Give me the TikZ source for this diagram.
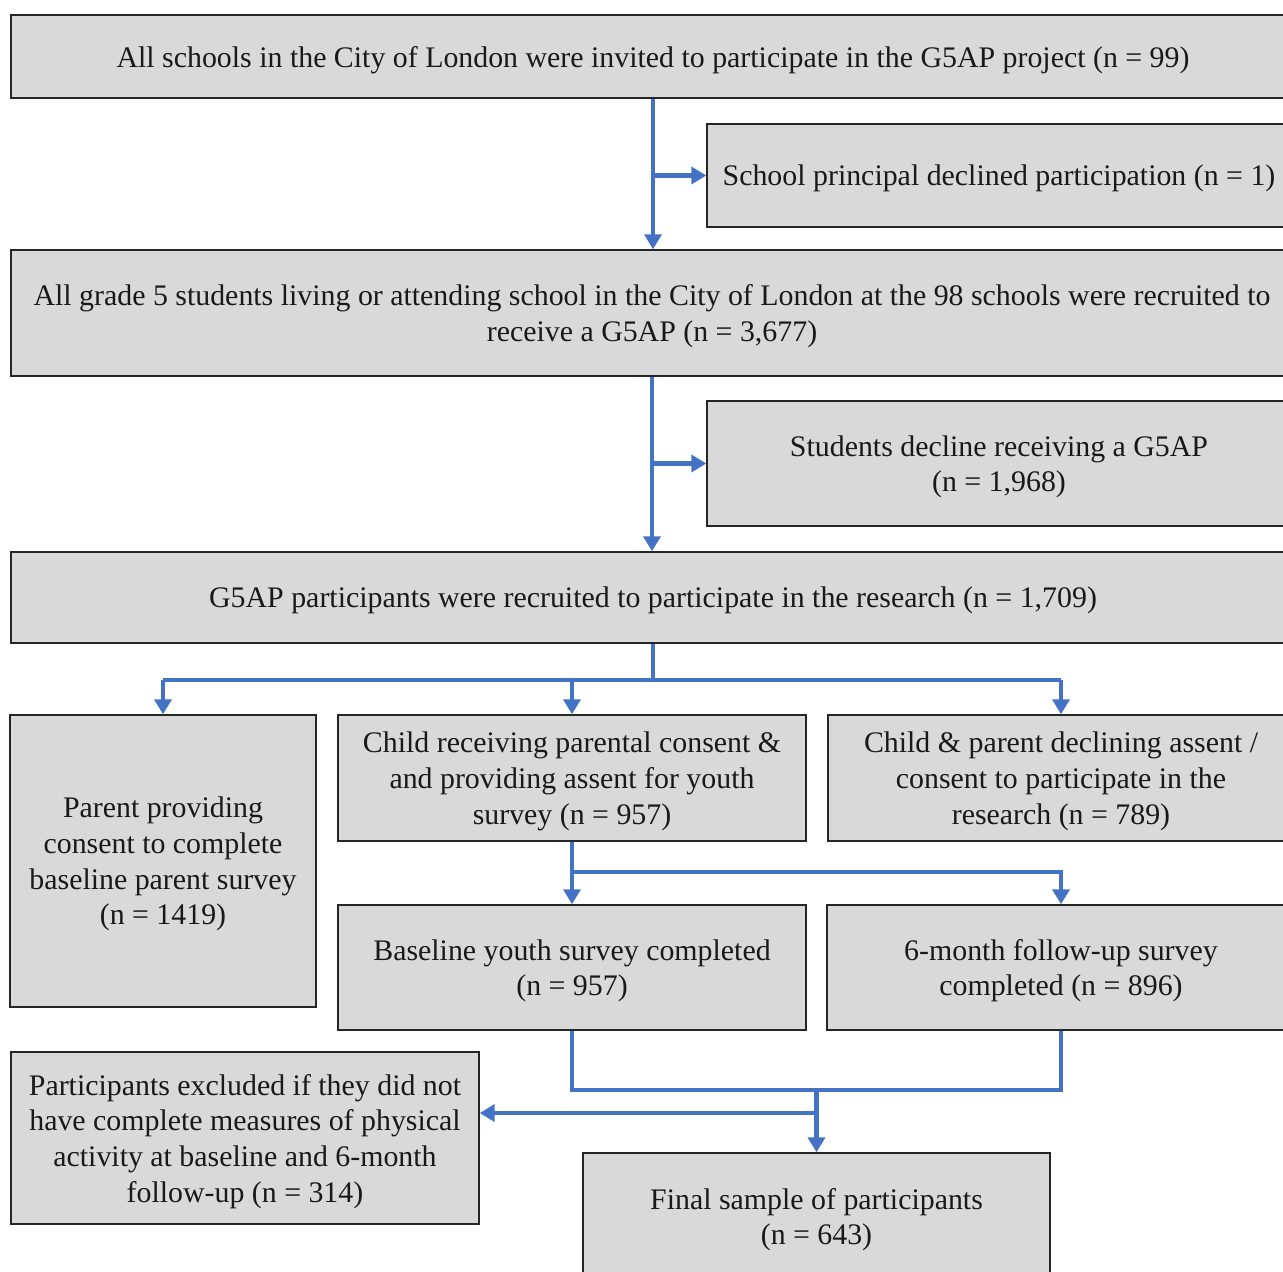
\documentclass[tikz,border=0pt]{standalone}
\usepackage{fontspec}
\setmainfont{Liberation Serif}
\usetikzlibrary{arrows.meta, positioning, calc}
\definecolor{boxgray}{HTML}{D9D9D9}
\definecolor{linkblue}{HTML}{4472C4}
\tikzset{
  flowbox/.style={
    rectangle, draw=black!85, line width=0.85pt, fill=boxgray, inner sep=2pt,
    align=center, font=\fontsize{17}{20.3}\selectfont, text=black!90, text depth=0pt
  },
  link/.style={draw=linkblue, line width=2.3pt},
  linkarrow/.style={link, -{Triangle[width=0.34cm, length=0.3cm]}}
}

\begin{document}
\begin{tikzpicture}[x=0.02cm, y=-0.02cm]
    \useasboundingbox (0,0) rectangle (1283,1271);
    
    % Recruitment chain
    \node[flowbox, minimum width=25.68cm, minimum height=1.66cm] (invite) at (653,56.5)
    {All schools in the City of London were invited to participate in the G5AP project (n = 99)};
    \node[flowbox, minimum width=11.68cm, minimum height=2.06cm] (principal) at (999,175.5)
    {School principal declined participation (n = 1)};
    \node[flowbox, minimum width=25.64cm, minimum height=2.52cm] (recruit) at (652,313)
    {All grade 5 students living or attending school in the City of London at the 98 schools were recruited to\\ receive a G5AP (n = 3,677)};
    \node[flowbox, minimum width=11.68cm, minimum height=2.5cm] (declinepass) at (999,463.5)
    {Students decline receiving a G5AP\\ (n = 1,968)};
    \node[flowbox, minimum width=25.68cm, minimum height=1.82cm] (research) at (653,597.5)
    {G5AP participants were recruited to participate in the research (n = 1,709)};
    
    % Consent level
    \node[flowbox, minimum width=6.12cm, minimum height=5.84cm] (parent) at (163,861)
    {Parent providing\\ consent to complete\\ baseline parent survey\\ (n = 1419)};
    \node[flowbox, minimum width=9.36cm, minimum height=2.52cm] (child) at (572,778)
    {Child receiving parental consent \&\\ and providing assent for youth\\ survey (n = 957)};
    \node[flowbox, minimum width=9.32cm, minimum height=2.52cm] (refuse) at (1061,778)
    {Child \& parent declining assent /\\ consent to participate in the\\ research (n = 789)};
    
    % Surveys
    \node[flowbox, minimum width=9.36cm, minimum height=2.5cm] (baseline) at (572,967.5)
    {Baseline youth survey completed\\ (n = 957)};
    \node[flowbox, minimum width=9.36cm, minimum height=2.5cm] (followup) at (1061,967.5)
    {6-month follow-up survey\\ completed (n = 896)};
    
    % Final sample
    \node[flowbox, minimum width=9.36cm, minimum height=3.44cm] (excluded) at (245,1138)
    {Participants excluded if they did not\\ have complete measures of physical\\ activity at baseline and 6-month\\ follow-up (n = 314)};
    \node[flowbox, minimum width=9.34cm, minimum height=2.54cm] (final) at (816.5,1216.5)
    {Final sample of participants\\ (n = 643)};
    
    \coordinate (split) at (653,680);
    \coordinate (fork) at (572,872);
    \coordinate (join) at (816.5,1090);
    \coordinate (drop) at (816.5,1113);
    
    % Connectors
    \draw[linkarrow] (invite.south) -- (invite.south |- recruit.north);
    \draw[linkarrow] (invite.south |- principal.west) -- (principal.west);
    \draw[linkarrow] (recruit.south) -- (recruit.south |- research.north);
    \draw[linkarrow] (recruit.south |- declinepass.west) -- (declinepass.west);
    \draw[link] (research.south) -- (split);
    \draw[link] (parent.north |- split) -- (refuse.north |- split);
    \draw[linkarrow] (parent.north |- split) -- (parent.north);
    \draw[linkarrow] (child.north |- split) -- (child.north);
    \draw[linkarrow] (refuse.north |- split) -- (refuse.north);
    \draw[linkarrow] (child.south) -- (baseline.north);
    \draw[linkarrow] (fork) -| (followup.north);
    \draw[link] (baseline.south) |- (join) -| (followup.south);
    \draw[linkarrow] (join) -- (final.north);
    \draw[linkarrow] (drop) -- (excluded.east |- drop);
    
\end{tikzpicture}
\end{document}
